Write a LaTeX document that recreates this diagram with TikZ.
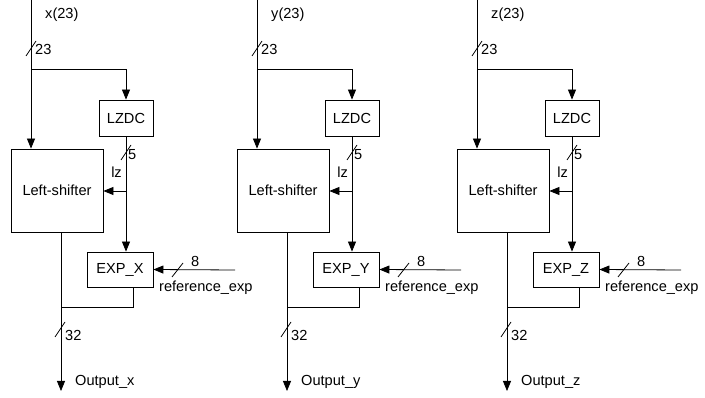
\documentclass[tikz,border=0pt]{standalone}
\usepackage{fontspec}
\setmainfont{Liberation Sans}
\usetikzlibrary{arrows.meta}
\begin{document}
\begin{tikzpicture}[x=1pt,y=-1pt,
  every node/.style={font=\fontsize{14.6}{16}\selectfont, inner sep=0pt},
  blk/.style={draw, line width=0.8pt, anchor=center},
  wire/.style={line width=0.8pt},
  arr/.style={wire, -{Triangle[length=10pt,width=8pt]}},
  tick/.style={line width=0.8pt},
  lbl/.style={anchor=west}]
\useasboundingbox (0,0) rectangle (705,398);
\foreach \i/\X/\lx/\ux in {1/31/x/X, 2/257/y/Y, 3/477/z/Z}{
  \coordinate (in\i) at (\X,0);
  \coordinate (br\i) at (\X,69);
  \node[blk, minimum width=54pt, minimum height=36pt] (lzdc\i) at (\X+95,118) {LZDC};
  \node[blk, minimum width=92pt, minimum height=83pt] (ls\i) at (\X+26,190.5) {Left-shifter};
  \node[blk, minimum width=66pt, minimum height=35pt] (exp\i) at (\X+89,269.5) {EXP\_\ux};
  \coordinate (lzj\i) at (\X+95,191);
  \coordinate (refin\i) at (\X+204,270);
  \coordinate (oj\i) at (\X+30,307);
  \coordinate (out\i) at (\X+30,391);
  \coordinate (eb\i) at (\X+102,307);
  % input and branch
  \draw[arr] (in\i) -- (in\i |- ls\i.north);
  \draw[arr] (br\i) -| (lzdc\i.north);
  % LZDC to EXP and lz to Left-shifter
  \draw[arr] (lzdc\i.south) -- (lzdc\i.south |- exp\i.north);
  \draw[arr] (lzj\i) -- (ls\i.east |- lzj\i);
  % reference_exp
  \draw[arr] (refin\i) -- (exp\i.east);
  % outputs
  \draw[arr] (oj\i |- ls\i.south) -- (out\i);
  \draw[wire] (eb\i |- exp\i.south) -- (eb\i) -- (oj\i);
  % bus ticks
  \draw[tick] (\X-5,56) -- (\X+5,41);
  \draw[tick] (\X+90,160) -- (\X+100,145);
  \draw[tick] (\X+24,337) -- (\X+34,322);
  \draw[tick] (\X+141,277) -- (\X+152,263);
  % labels
  \node[lbl] (lin\i) at (\X+14,15) {\lx(23)};
  \node[lbl] (l23\i) at (\X+4,49) {23};
  \node[lbl] (l5\i) at (\X+97,155) {5};
  \node[anchor=east] (llz\i) at (\X+91,172) {lz};
  \node[lbl] (l8\i) at (\X+160,261) {8};
  \node[lbl] (lref\i) at (\X+128,288) {reference\_exp};
  \node[lbl] (l32\i) at (\X+34,335) {32};
  \node[lbl] (lout\i) at (\X+44,382) {Output\_\lx};
}
\end{tikzpicture}
\end{document}
